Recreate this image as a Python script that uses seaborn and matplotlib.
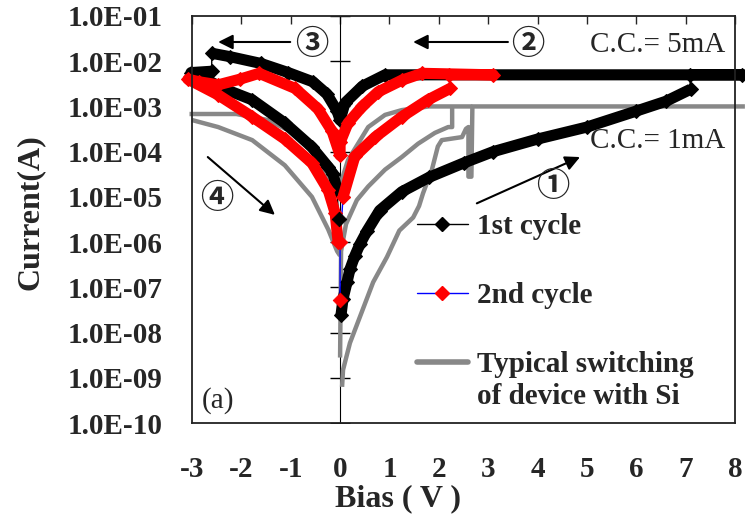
import numpy as np
import pandas as pd
import matplotlib
matplotlib.use("Agg")
import matplotlib.pyplot as plt
from matplotlib.lines import Line2D
from matplotlib.ticker import NullLocator
import seaborn as sns

# 1st cycle (black diamonds): set sweep, compliance + return + negative sweep, reset return
v_1st_set = [0.02, 0.06, 0.14, 0.2, 0.3, 0.4, 0.55, 0.8, 1.25, 1.8, 2.5, 3.1, 4.0, 5.0, 6.0, 6.6, 7.1]
i_1st_set = [2.5e-8, 5.6e-8, 1.3e-7, 2.5e-7, 5.0e-7, 8.9e-7, 1.8e-6, 5.0e-6, 1.3e-5, 2.7e-5, 5.6e-5,
             1.0e-4, 1.9e-4, 3.5e-4, 7.9e-4, 1.3e-3, 2.4e-3]
v_1st_on = [7.08, 8.15, 0.91, 0.45, 0.1, 0.0, -0.06, -0.27, -0.55, -1.05, -1.6, -2.23, -2.6]
i_1st_on = [5.0e-3, 5.0e-3, 5.0e-3, 2.8e-3, 1.2e-3, 5.0e-4, 7.9e-4, 1.9e-3, 3.5e-3, 5.6e-3, 8.9e-3,
            1.26e-2, 1.5e-2]
v_1st_off = [-2.6, -3.02, -2.9, -2.33, -1.78, -1.12, -0.57, -0.24, -0.14, -0.06]
i_1st_off = [6.0e-3, 5.6e-3, 5.0e-3, 2.4e-3, 1.4e-3, 4.3e-4, 1.26e-4, 4.6e-5, 3.2e-5, 1.4e-5]
v_1st_end = [-0.03]
i_1st_end = [3.2e-6]

# 2nd cycle (red diamonds on a blue line)
v_2nd_start = [0.0, 0.0]
i_2nd_start = [5.2e-8, 1.0e-6]
v_2nd_set = [0.06, 0.3, 0.71, 1.25, 1.78, 2.23]
i_2nd_set = [1.0e-5, 7.9e-5, 2.1e-4, 5.9e-4, 1.4e-3, 2.5e-3]
v_2nd_on = [2.2, 3.1, 1.66, 1.25, 0.77, 0.45, 0.16, 0.0, 0.0,
            -0.16, -0.45, -0.91, -1.64, -2.03, -2.47, -2.85, -3.08,
            -2.47, -1.78, -1.12, -0.57, -0.24, -0.1, -0.04]
i_2nd_on = [5.0e-3, 5.0e-3, 5.4e-3, 3.8e-3, 2.1e-3, 1.0e-3, 4.3e-4, 1.6e-4, 8.3e-5,
            2.8e-4, 8.9e-4, 2.5e-3, 5.4e-3, 4.0e-3, 3.0e-3, 3.5e-3, 4.0e-3,
            1.8e-3, 5.9e-4, 1.9e-4, 5.6e-5, 1.4e-5, 4.4e-6, 1.0e-6]

# typical switching of device with Si (grey), one list per sweep piece
v_si_set = [0.04, 0.06, 0.2, 0.4, 0.67, 0.95, 1.2, 1.48, 1.6, 1.68, 1.86, 1.98, 2.06, 2.47, 2.55, 2.6,
            2.6, 2.66, 2.68, 8.2]
i_si_set = [6.3e-10, 1.5e-9, 5.9e-9, 2.2e-8, 1.3e-7, 4.7e-7, 1.8e-6, 3.5e-6, 6.3e-6, 1.2e-5, 4.0e-5,
            1.3e-4, 1.8e-4, 2.1e-4, 3.2e-4, 3.5e-4, 2.8e-5, 2.8e-5, 1.0e-3, 1.0e-3]
v_si_ret1 = [2.68, 1.8, 1.25, 0.91, 0.57, 0.16, 0.04, 0.0]
i_si_ret1 = [1.0e-3, 1.0e-3, 8.3e-4, 6.5e-4, 3.5e-4, 6.5e-5, 2.5e-5, 1.0e-5]
v_si_ret2 = [2.27, 2.27, 2.19, 1.92, 1.58, 1.25, 0.91, 0.57, 0.34, 0.12, 0.02, 0.0]
i_si_ret2 = [1.0e-3, 3.5e-4, 3.5e-4, 2.6e-4, 1.5e-4, 7.6e-5, 4.0e-5, 1.7e-5, 8.5e-6, 2.5e-6, 6.3e-7, 2.8e-9]
v_si_neg1 = [-0.1, -0.3, -0.57, -0.91, -1.46, -2.1, -3.05]
i_si_neg1 = [1.0e-5, 3.2e-5, 1.0e-4, 2.5e-4, 5.0e-4, 6.8e-4, 6.8e-4]
v_si_neg2 = [-3.0, -2.47, -1.78, -1.12, -0.57, -0.24, -0.06, 0.0]
i_si_neg2 = [5.0e-4, 3.5e-4, 1.8e-4, 5.0e-5, 1.0e-5, 1.9e-6, 6.3e-7, 5.0e-7]

x_ticks = [-3, -2, -1, 0, 1, 2, 3, 4, 5, 6, 7, 8]
y_ticks = [1e-10, 1e-9, 1e-8, 1e-7, 1e-6, 1e-5, 1e-4, 1e-3, 1e-2, 1e-1]


def pieces(**kw):
    return pd.concat([pd.DataFrame({'V': v, 'I': i, 'seg': k}) for k, (v, i) in kw.items()],
                     ignore_index=True)


si = pieces(set=(v_si_set, i_si_set), ret1=(v_si_ret1, i_si_ret1), ret2=(v_si_ret2, i_si_ret2),
            neg1=(v_si_neg1, i_si_neg1), neg2=(v_si_neg2, i_si_neg2))
c1 = pieces(a=(v_1st_set, i_1st_set), b=(v_1st_on, i_1st_on), c=(v_1st_off, i_1st_off))
c2 = pieces(a=(v_2nd_set, i_2nd_set), b=(v_2nd_on, i_2nd_on))

sns.set_style("white")
plt.rcParams['font.family'] = ['Liberation Serif', 'DejaVu Sans']
SERIF = ['Liberation Serif', 'DejaVu Sans']
CIRC = ['Noto Sans CJK JP', 'DejaVu Sans']
GREY = '#888888'

fig, ax = plt.subplots(figsize=(7.45, 5.24), dpi=100)
fig.subplots_adjust(left=0.2577, right=0.9866, bottom=0.1927, top=0.9695)
ax.set_yscale('log')

ax.axvline(0, color='k', lw=0.8, zorder=1)
# cross ticks on the y axis line at V = 0
ax.plot(np.zeros(len(y_ticks)), y_ticks, ls='none', marker='_', ms=14, mew=1, color='k', zorder=1)

n0 = len(ax.lines)
sns.lineplot(data=si, x='V', y='I', units='seg', estimator=None, sort=False,
             color=GREY, lw=3.2, legend=False, ax=ax)
# black: thin connecting line, then the dense diamond bands
sns.lineplot(x=v_1st_set + v_1st_on + v_1st_off + v_1st_end,
             y=i_1st_set + i_1st_on + i_1st_off + i_1st_end,
             sort=False, estimator=None, color='k', lw=1, ax=ax)
sns.lineplot(data=c1, x='V', y='I', units='seg', estimator=None, sort=False, color='k', lw=8,
             marker='D', markersize=7, markeredgecolor='k', legend=False, ax=ax)
# red on blue
sns.lineplot(x=v_2nd_start + v_2nd_set + v_2nd_on, y=i_2nd_start + i_2nd_set + i_2nd_on,
             sort=False, estimator=None, color='blue', lw=1, ax=ax)
sns.lineplot(data=c2, x='V', y='I', units='seg', estimator=None, sort=False, color='red', lw=8,
             marker='D', markersize=7, markeredgecolor='red', legend=False, ax=ax)
for ln in ax.lines[n0:]:
    ln.set_clip_on(False)
    ln.set_solid_capstyle('butt')
sns.scatterplot(x=v_1st_end, y=i_1st_end, marker='D', s=55, color='k', edgecolor='k', ax=ax, zorder=5)
sns.scatterplot(x=v_2nd_start, y=i_2nd_start, marker='D', s=55, color='red', edgecolor='red', ax=ax, zorder=5)

ax.set_xlim(-3, 8)
ax.set_ylim(1e-10, 1e-1)
ax.set_xticks(x_ticks)
ax.set_xticklabels([str(t) for t in x_ticks], fontweight='bold', fontsize=21)
ax.set_yticks(y_ticks)
ax.set_yticklabels([f"{t:.1E}" for t in y_ticks], fontweight='bold', fontsize=21)
ax.yaxis.set_minor_locator(NullLocator())
ax.tick_params(axis='y', which='both', left=False, right=False, pad=18)
ax.tick_params(axis='x', top=True, bottom=False, direction='in', length=6, width=1,
               pad=24, labelbottom=True)
for s in ax.spines.values():
    s.set_color('#222222')
    s.set_linewidth(1.3)

ax.set_xlabel('Bias ( V )', fontsize=23, fontweight='bold')
ax.xaxis.set_label_coords(0.38, -0.15)
ax.set_ylabel('Current(A)', fontsize=23, fontweight='bold')
ax.yaxis.set_label_coords(-0.272, 0.518)

arrow = dict(arrowstyle='-|>', color='k', lw=1.5, mutation_scale=22, shrinkA=0, shrinkB=0)
ax.annotate('', xy=(-2.47, 2.66e-2), xytext=(-1.01, 2.66e-2), arrowprops=arrow)
ax.annotate('', xy=(1.48, 2.66e-2), xytext=(3.4, 2.66e-2), arrowprops=arrow)
ax.annotate('', xy=(4.86, 7.6e-5), xytext=(2.77, 7.2e-6), arrowprops=arrow)
ax.annotate('', xy=(-1.32, 4.0e-6), xytext=(-2.68, 7.6e-5), arrowprops=arrow)
for txt, x, y in [('③', -0.57, 2.3e-2), ('②', 3.8, 2.3e-2), ('①', 4.31, 1.66e-5), ('④', -2.49, 9.3e-6)]:
    ax.text(x, y, txt, fontsize=24, family=CIRC, fontweight='bold', ha='center', va='center')
ax.text(7.8, 2.3e-2, 'C.C.= 5mA', fontsize=21, family=SERIF, ha='right', va='center')
ax.text(7.8, 1.7e-4, 'C.C.= 1mA', fontsize=21, family=SERIF, ha='right', va='center')
ax.text(-2.8, 3.2e-10, '(a)', fontsize=21, family=SERIF, ha='left', va='center')

handles = [Line2D([], [], color='k', lw=1, marker='D', ms=7),
           Line2D([], [], color='blue', lw=1, marker='D', ms=7, mfc='red', mec='red'),
           Line2D([], [], color=GREY, lw=4)]
leg = ax.legend(handles, ['1st cycle', '2nd cycle', 'Typical switching'],
                loc='upper left', bbox_to_anchor=(0.414, 0.515), frameon=False,
                prop=dict(family=SERIF, weight='bold', size=21), handlelength=1.75,
                handletextpad=0.3, labelspacing=1.44, borderpad=0, borderaxespad=0)
ax.text(0.525, 0.064, 'of device with Si', transform=ax.transAxes, fontsize=21,
        fontweight='bold', family=SERIF, ha='left', va='center')

fig.savefig('out.png', dpi=100)
